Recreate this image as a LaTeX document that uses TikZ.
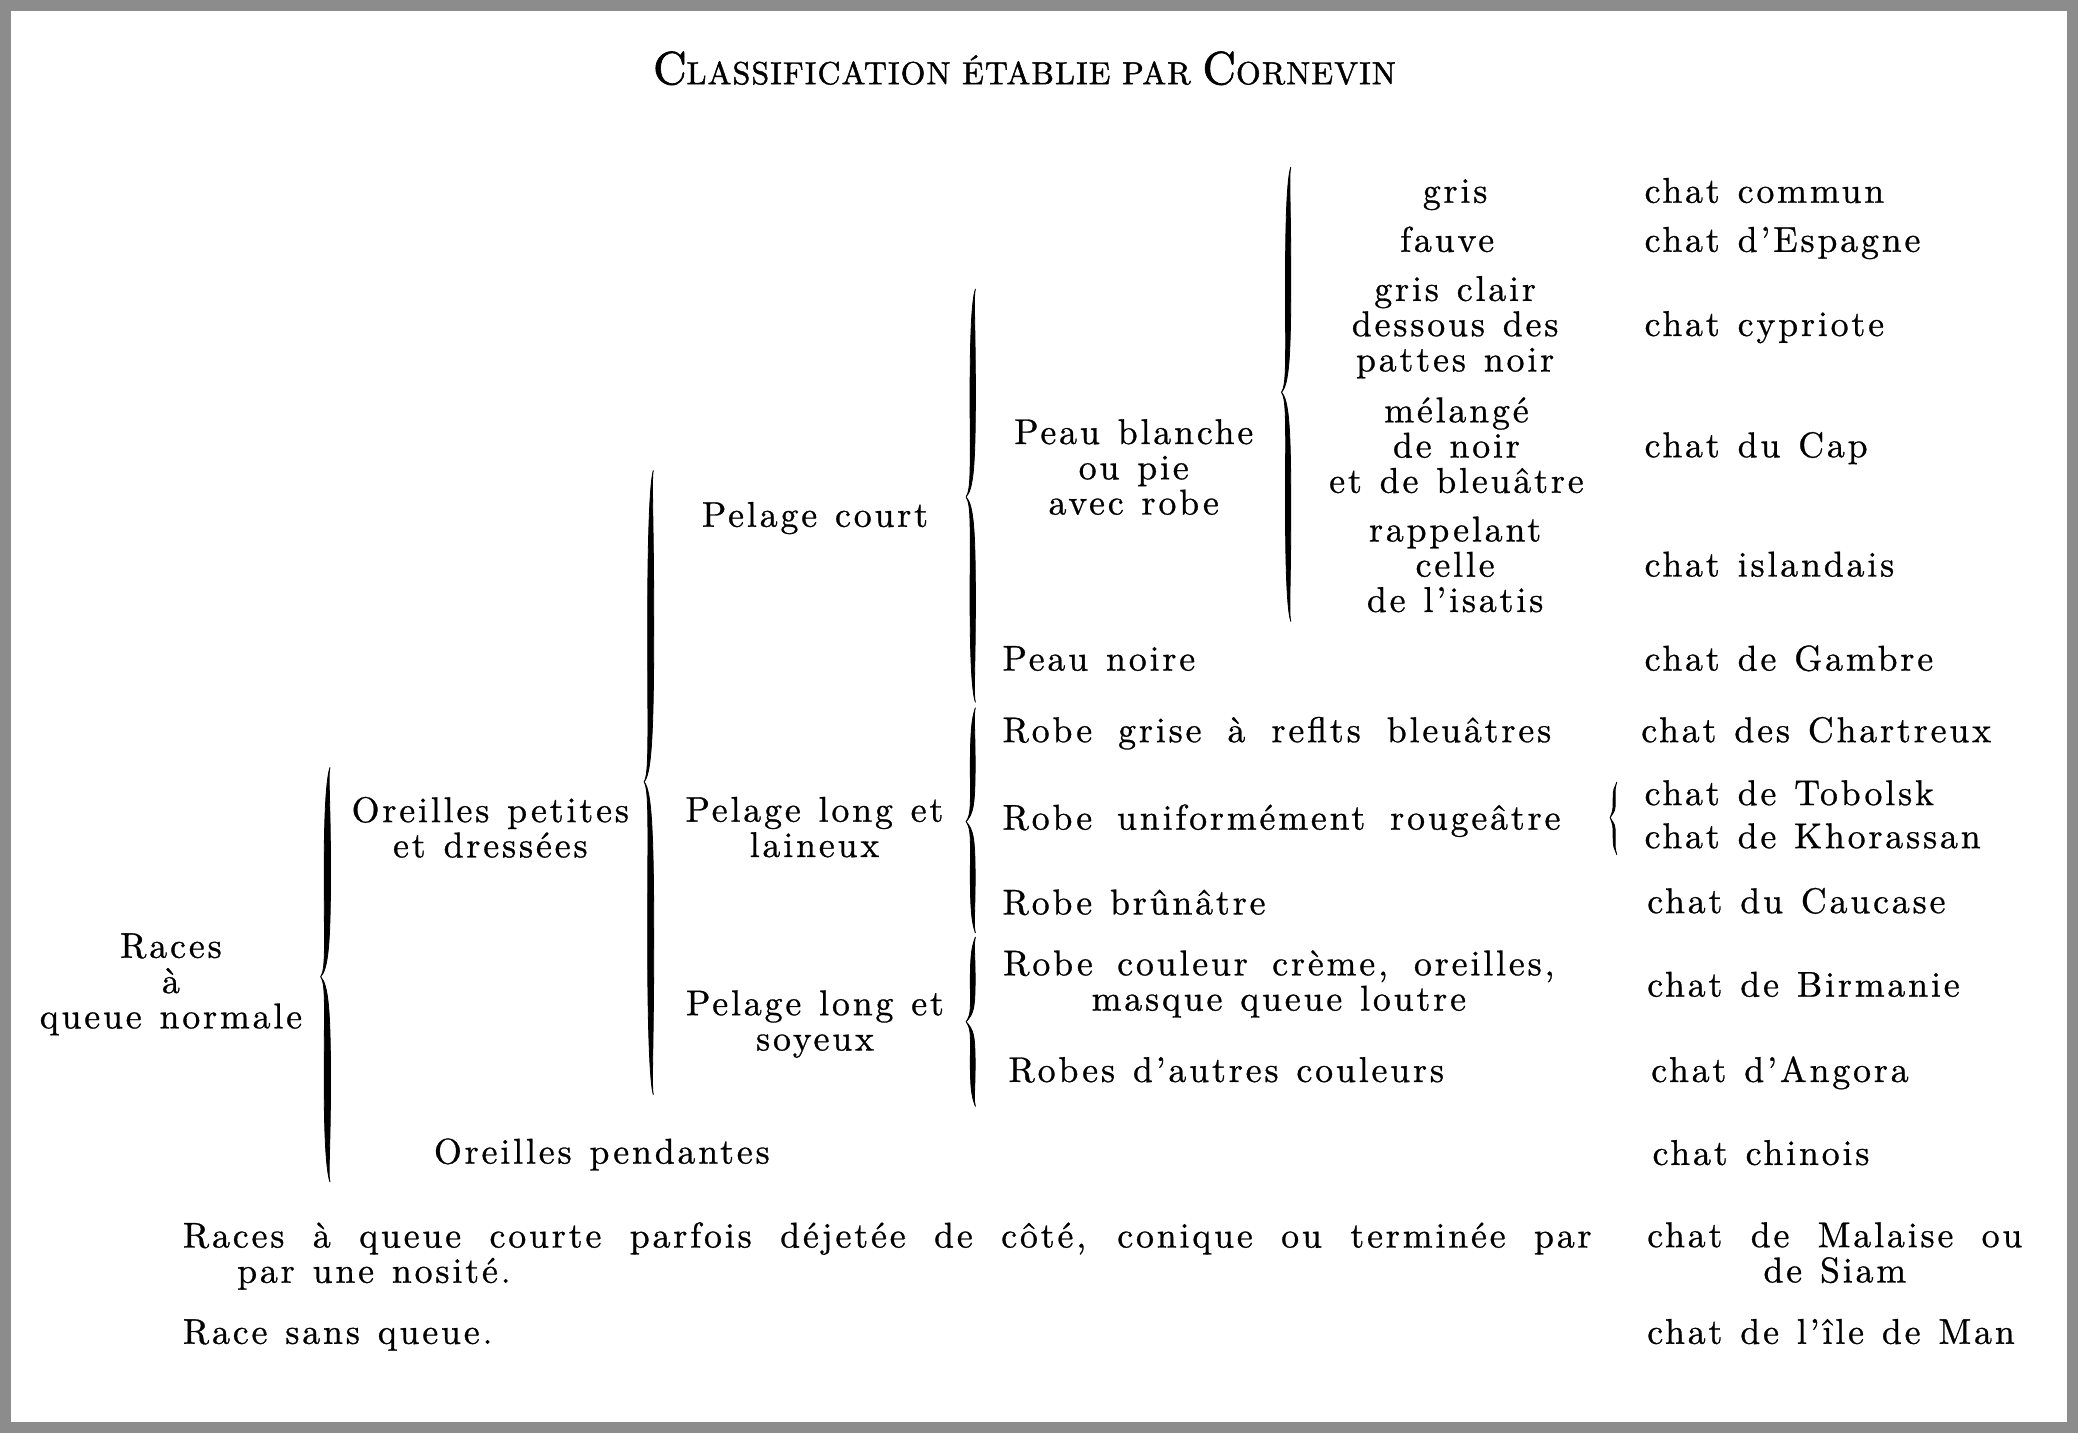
\documentclass[tikz,border=0pt]{standalone}
\usepackage{fontspec}
\newfontfamily\bodyff{lmroman10-regular.otf}[LetterSpace=8,FakeBold=0.8]
\newfontfamily\titleff{lmroman10-regular.otf}[LetterSpace=3.6,FakeBold=1.4]
\newcommand\bodyfont{\bodyff\fontsize{13.5}{13.3}\selectfont\spaceskip=0.5em plus 0.6em minus 0.1em\relax}
\newcommand\tbig{\fontsize{17.5}{17.5}\selectfont}
\newcommand\tsmall{\fontsize{12}{12}\selectfont}
\definecolor{framegray}{RGB}{140,140,140}
% curly brace: x, top, tip, bottom, half thickness, tip depth
\newcommand\cbrace[6]{%
 \filldraw[brc] ({#1+2},{#2})
  .. controls ({#1},{#2+6}) and ({#1-#5},{#2+0.15*(#3-#2)}) .. ({#1-#5},{(#2+#3)/2})
  .. controls ({#1-#5},{#3-0.15*(#3-#2)}) and ({#1-1},{#3-6}) .. ({#1-#6},{#3})
  .. controls ({#1-1},{#3+6}) and ({#1-#5},{#3+0.15*(#4-#3)}) .. ({#1-#5},{(#3+#4)/2})
  .. controls ({#1-#5},{#4-0.15*(#4-#3)}) and ({#1},{#4-6}) .. ({#1+2},{#4})
  .. controls ({#1+0.4},{#4-6}) and ({#1+#5},{#4-0.15*(#4-#3)}) .. ({#1+#5},{(#3+#4)/2})
  .. controls ({#1+#5},{#3+0.15*(#4-#3)}) and ({#1+0.5},{#3+6}) .. ({#1-#6},{#3})
  .. controls ({#1+0.5},{#3-6}) and ({#1+#5},{#3-0.15*(#3-#2)}) .. ({#1+#5},{(#2+#3)/2})
  .. controls ({#1+#5},{#2+0.15*(#3-#2)}) and ({#1+0.4},{#2+6}) .. ({#1+2},{#2}) -- cycle;}
\tikzset{
 txt/.style={inner sep=0pt, outer sep=0pt, font=\bodyfont},
 ml/.style={txt, align=center, anchor=north},
 bl/.style={txt, anchor=base west},
 bc/.style={txt, anchor=base},
 brc/.style={fill=black, draw=black, line width=0.3pt},
}
\begin{document}
\begin{tikzpicture}[x=0.5pt,y=-0.5pt]
\useasboundingbox (0,0) rectangle (1568,1081);
\fill[framegray] (0,0) rectangle (1568,1081);
\fill[white] (8,8) rectangle (1560,1073);
% title
\node[inner sep=0pt, anchor=base, font=\titleff] (title) at (773,63.5)
 {{\tbig C}{\tsmall LASSIFICATION ÉTABLIE PAR }{\tbig C}{\tsmall ORNEVIN}};
% left part
\node[ml] (races) at (129,704.3) {Races\\à\\queue normale};
\node[ml] (orpet) at (370,601.3) {Oreilles petites\\et dressées};
\node[bl] (orpen) at (327.5,878) {Oreilles pendantes};
\node[bc] (pcourt) at (615,397.5) {Pelage court};
\node[ml] (plaine) at (614.6,601.3) {Pelage long et\\laineux};
\node[ml] (psoie) at (615,747.3) {Pelage long et\\soyeux};
\node[ml] (pblanc) at (855.5,316.3) {Peau blanche\\ou pie\\avec robe};
\node[bl] (pnoir) at (756.5,506) {Peau noire};
\node[bl] (rgrise) at (756.5,560) {\makebox[207pt][s]{Robe grise à reflts bleuâtres}};
\node[bl] (rrouge) at (756.5,626) {\makebox[210.5pt][s]{Robe uniformément rougeâtre}};
\node[bl] (rbrun) at (756.5,690) {Robe brûnâtre};
\node[ml] (rcreme) at (965,717.1) {\makebox[208pt][s]{Robe couleur crème, oreilles,}\\masque queue loutre};
\node[bl] (rautre) at (761,816.4) {Robes d’autres couleurs};
% colour column
\node[bc] (gris) at (1098,153) {gris};
\node[bc] (fauve) at (1092,190) {fauve};
\node[ml] (gclair) at (1098,208.3) {gris clair\\dessous des\\pattes noir};
\node[ml] (melange) at (1099,299.8) {mélangé\\de noir\\et de bleuâtre};
\node[ml] (rappel) at (1098,389.8) {rappelant\\celle\\de l’isatis};
% breeds
\node[bl] (c1) at (1241,153) {chat commun};
\node[bl] (c2) at (1241,190) {chat d’Espagne};
\node[bl] (c3) at (1241,253.5) {chat cypriote};
\node[bl] (c4) at (1241,345) {chat du Cap};
\node[bl] (c5) at (1241,435) {chat islandais};
\node[bl] (c6) at (1241,506) {chat de Gambre};
\node[bl] (c7) at (1238.5,560) {chat des Chartreux};
\node[bl] (c8) at (1241,607.5) {chat de Tobolsk};
\node[bl] (c9) at (1241,640) {chat de Khorassan};
\node[bl] (c10) at (1243,689) {chat du Caucase};
\node[bl] (c11) at (1243,752) {chat de Birmanie};
\node[bl] (c12) at (1246,816.4) {chat d’Angora};
\node[bl] (c13) at (1247,879) {chat chinois};
\node[ml] (c14) at (1384.5,922.3) {\makebox[141.5pt][s]{chat de Malaise ou}\\de Siam};
\node[bl] (c15) at (1243,1014) {chat de l’île de Man};
% bottom rows
\node[txt, anchor=north west, align=left] (courte) at (138,922.3)
 {\makebox[531.5pt][s]{Races à queue courte parfois déjetée de côté, conique ou terminée par}\\\hspace*{20.5pt}par une nosité.};
\node[bl] (sansq) at (138,1014) {Race sans queue.};
% braces
\cbrace{247}{579}{737}{892}{2.4}{5}
\cbrace{491}{355}{590}{826}{2.3}{5}
\cbrace{734}{218}{375}{530}{2}{5}
\cbrace{734}{534}{620}{704}{1.8}{5}
\cbrace{734}{707}{771}{835}{1.8}{5}
\cbrace{972}{126}{296}{469}{2}{5}
\cbrace{1218}{590}{617}{645}{0.8}{3}
\end{tikzpicture}
\end{document}
